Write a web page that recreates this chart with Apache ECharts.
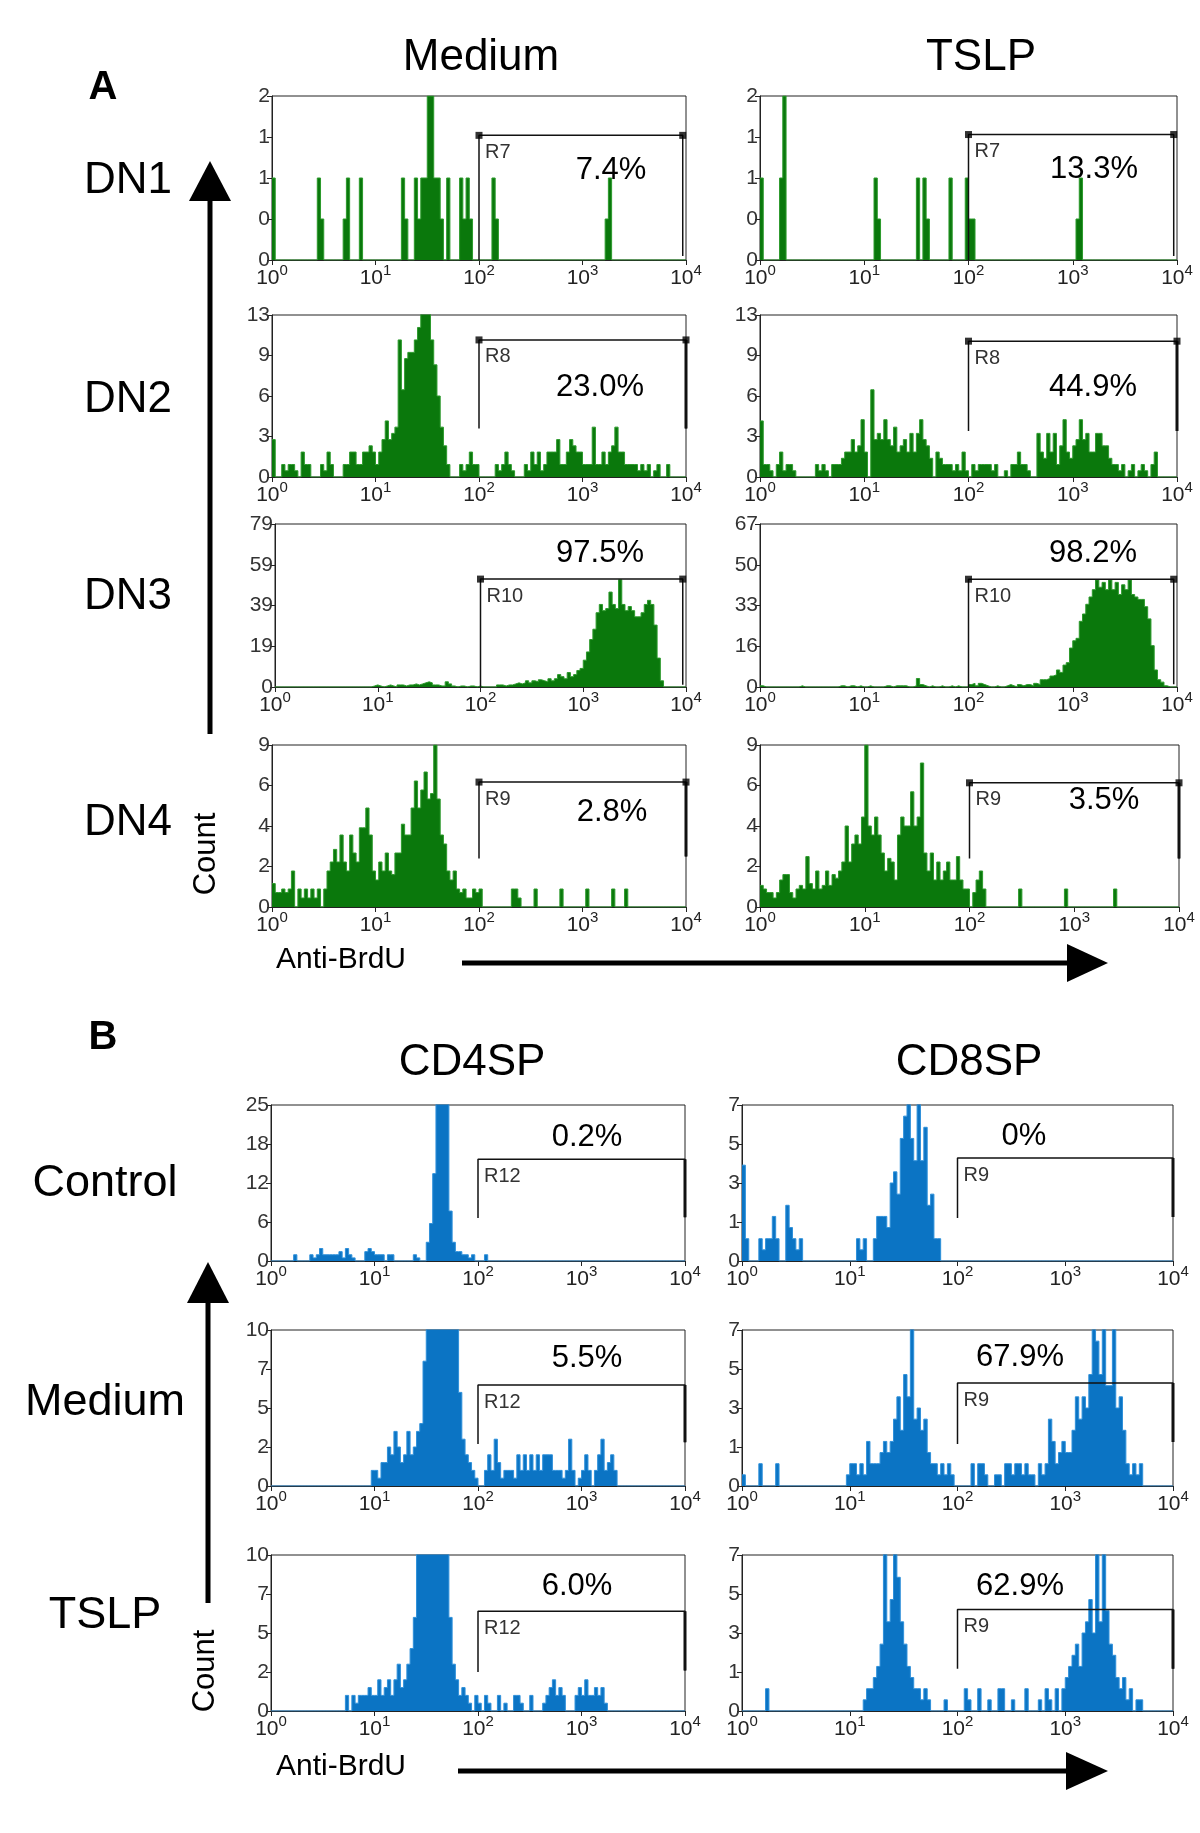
<!DOCTYPE html>
<html><head><meta charset="utf-8">
<script src="https://cdn.jsdelivr.net/npm/echarts@6/dist/echarts.min.js"></script>
<style>html,body{margin:0;padding:0;background:#fff}#c{width:1200px;height:1833px}</style>
</head><body><div id="c"></div>
<script>
// 128 channels over 4 decades (32 channels per decade), counts per channel
const BINS_PER_DECADE = 32;

const dn1Medium = [
 1,0,0,0,0,0,0,0,0,0,0,0,0,0,1,0.5,
 0,0,0,0,0,0,0.5,1,0,0,0,1,0,0,0,0,
 0,0,0,0,0,0,0,0,1,0.5,0,0,1,0.5,1,1,
 2,2,1,1,0.5,0,1,0,0,0,1,0.5,1,0.5,0,0,
 0,0,0,0,1,0.5,0,0,0,0,0,0,0,0,0,0,
 0,0,0,0,0,0,0,0,0,0,0,0,0,0,0,0,
 0,0,0,0,0,0,0,0.5,1,0,0,0,0,0,0,0,
 0,0,0,0,0,0,0,0,0,0,0,0,0,0,0,0];
const dn1Tslp = [
 1,0,0,0,0,0,1,2,0,0,0,0,0,0,0,0,
 0,0,0,0,0,0,0,0,0,0,0,0,0,0,0,0,
 0,0,0,1,0.5,0,0,0,0,0,0,0,0,0,0,0,
 1,0,1,0.5,0,0,0,0,0,0,1,0,0,0,0,1,
 0.5,0.5,0,0,0,0,0,0,0,0,0,0,0,0,0,0,
 0,0,0,0,0,0,0,0,0,0,0,0,0,0,0,0,
 0,0.5,1,0,0,0,0,0,0,0,0,0,0,0,0,0,
 0,0,0,0,0,0,0,0,0,0,0,0,0,0,0,0];
const dn2Medium = [
 3,0,0,1,0.5,1,1,0.5,0,2,1,1,0,0,0,1,
 0.5,2,1,0,0,0,1,1,2,2,1,1,2,2,2.5,2,
 1,2,3,4.5,3,3.5,4,11,7,9.5,10,10,11,12,14,14,
 14,11,9,6.5,4,2.5,1,0,0,0,1,0.5,1,2,1,1,
 0,0,0,0,0,1,0.5,1,2,1,0.5,0,0,0,1,0.5,
 2,1,2,0.5,1,2,2,2,3,1,1,2,3,2.5,2,2,
 1,1,1,4,1,1,2,1,2,2.5,4,2,2,1,1,1,
 1,0.5,1,0.5,1,0,0.5,1,0,0,1,0,0,0,0,0];
const dn2Tslp = [
 4.5,1,1,0.5,0,1,2,0.5,1,1,0.5,0,0,0,0,0,
 0,1,0.5,1,0.5,0,1,1,1,1.5,2,2,3,2,2.5,4.6,
 2,0,7,3,3.5,3,4.6,3,2.5,4,2,2.5,3,2,3.5,2,
 3.5,4.6,3,2.5,1.5,0,2,1.5,1,1,1,0.5,1,0.5,2,0.5,
 0,1,0.5,1,1,1,1,0.5,1,0,0,0.5,0,1,1,2,
 1,1,0.5,0,0,3.5,2,1.5,3.5,2,3.5,1,2.5,4.6,2,1.5,
 2.5,3,4.6,3,3.5,2,2,3.5,3.5,2.5,2.5,1.5,1,1,0.5,1,
 0,0.5,1,0,0.5,1,0.5,0,1,2,0,0,0,0,0,0];
const dn3Medium = [
 0,0,0,0,0,0,0,0,0,0,0,0,0,0,0,0,
 0,0,0,0,0,0,0,0,0,0,0,0,0,0,0.5,1,
 0.5,0,0.5,1,0.5,0,1,1,0.5,1,1,1.5,1,1.5,2,2.5,
 2,1,1,0.5,0.5,2.5,1.5,0.5,0,0.5,0.5,0,0.5,0.5,0,0.5,
 0,0,0,0,0,1,1,0.5,1,1,1.5,2,1.5,2,3,2,
 3,2.5,3.5,3,2.5,4,3,4,6,5,4,7,5,6,8,9,
 13,17,23,28,36,40,37,38,46,40,38,52,40,37,39,37,
 34,34,36,40,42,40,30,14,3,0,0,0,0,0,0,0];
const dn3Tslp = [
 0.5,0,0,0,0,0,0,0,0,0,0,0,0.5,0,0,0,
 0,0,0,0,0,0,0,0,0.5,0.5,0,0.5,0.5,0,0.5,0,
 0,0.5,0,0,0,0,0.5,0.5,0,0.5,0.5,0.5,0.5,0,0,0.5,
 3.5,1,0.5,0,0.5,0,0,0.5,0,0,0.5,0,0.5,0,0,0,
 1,1.5,0.5,1.5,1,0.5,0,0,0.5,0,0,0.5,1,0.5,0,1,
 0.5,1,1,0.5,1.5,1,3,3,3.5,4.5,5,7,6,9,10,16,
 19,20,27,30,34,37,40,44,41,43,40,44,40,43,38,42,
 40,44,38,37,36,36,33,28,17,7,3,2,0.5,0,0,0];
const dn4Medium = [
 1.3,0.8,0.8,1,0.8,1,2,0,1,0.5,1,0.5,1,0.5,1,0,
 1,2,2.5,3.2,2.5,4,2.5,2,4,3,2.5,4.4,4.4,5.5,4,2,
 1.5,2.5,2,3,2,1.8,3,3,4.6,4,4,5.5,7,5.5,6.5,7.5,
 6,6.3,9,6,4,3.5,2,1.5,2,1,0.8,1,0.5,0.5,1,0.8,
 1,0,0,0,0,0,0,0,0,0,1,1,0.5,0,0,0,
 0,1,0,0,0,0,0,0,0,1,0,0,0,0,0,0,
 0,1,0,0,0,0,0,0,0,1,0,0,0,1,0,0,
 0,0,0,0,0,0,0,0,0,0,0,0,0,0,0,0];
const dn4Tslp = [
 1.2,1,0.8,0.8,0.5,0.8,1.5,1.8,1.8,0.8,0.5,1,1.2,1,2.8,1.3,
 1,2,1,1.2,2,1.2,1.8,1.6,2,2.5,4.5,2.5,3.5,4,3.5,5,
 9,4.5,4,5,4,3,2,2.7,2.5,1.5,4,5,4.5,4.5,6.4,4.5,
 5,8,3,2,3,1.5,2.5,1.5,2,2.5,1.5,1.5,2.8,1.5,1,1,
 0,0.8,1.5,2,1,0,0,0,0,0,0,0,0,0,0,1,
 0,0,0,0,0,0,0,0,0,0,0,0,0,1,0,0,
 0,0,0,0,0,0,0,0,0,0,0,0,1,0,0,0,
 0,0,0,0,0,0,0,0,0,0,0,0,0,0,0,0];
const cd4Control = [
 0,0,0,0,0,0,0,1,0,0,0,0,1,0.5,1,2,
 1,1,1,1,1,1.5,0.5,2,1,0.5,0,0,0,1.5,2,1.5,
 1,1,1,0,1,1,0,0,0,0,0,0,1,0.5,0,0,
 3,6,14,30,40,40,30,8,3,1.5,1.5,1,1,0.5,1,0,
 0,0,1,0,0,0,0,0,0,0,0,0,0,0,0,0,
 0,0,0,0,0,0,0,0,0,0,0,0,0,0,0,0,
 0,0,0,0,0,0,0,0,0,0,0,0,0,0,0,0,
 0,0,0,0,0,0,0,0,0,0,0,0,0,0,0,0];
const cd8Control = [
 4.3,1,0,0,0,1,0.5,1,1,2,1,0,0,2.5,1.5,1,
 0.5,1,0,0,0,0,0,0,0,0,0,0,0,0,0,0,
 0,0,1,0.5,1,0,0,1,2,2,2,1.5,3.5,4,3,5.5,
 6.5,8,5.5,4.5,8,4.5,6,2.5,3,1,1,0,0,0,0,0,
 0,0,0,0,0,0,0,0,0,0,0,0,0,0,0,0,
 0,0,0,0,0,0,0,0,0,0,0,0,0,0,0,0,
 0,0,0,0,0,0,0,0,0,0,0,0,0,0,0,0,
 0,0,0,0,0,0,0,0,0,0,0,0,0,0,0,0];
const cd4Medium = [
 0,0,0,0,0,0,0,0,0,0,0,0,0,0,0,0,
 0,0,0,0,0,0,0,0,0,0,0,0,0,0,0,1,
 1,0.5,1.5,1.5,2.5,2,3.5,2.5,1.5,2,3.5,2,2.5,3.5,4,8,
 14,14,14,14,14,14,14,14,14,14,6,3,2,1.5,1,0.5,
 0,0,1,2,1,3,1.5,0.5,1,1,1,0.5,2,1,2,1,
 2,1,2,1,2,2,2,1,1,1,0.5,1,3,1,0,0.5,
 1,2,1,0,1,2,3,1,1.5,2,1,0,0,0,0,0,
 0,0,0,0,0,0,0,0,0,0,0,0,0,0,0,0];
const cd8Medium = [
 0.5,0,0,0,0,1,0,0,0,0,1,0,0,0,0,0,
 0,0,0,0,0,0,0,0,0,0,0,0,0,0,0,0.5,
 1,1,0.5,1,0.5,2,1,1,1,1.5,2,1.5,2,3,4,2.5,
 5,4,8,3,3.5,2.5,3,1.5,1,1,0.5,1,0.5,1,0.5,0,
 0,0,0,0,1,0,1,1,0.5,0,0,0.5,0.5,0,1,1,
 0.5,1,1,0.5,1,0.5,0.5,0,1,0.5,1,3,2,1,1.5,2,
 1.5,1.5,2.5,4,3,4,3.5,5,8,6.5,5,8,4.5,4.5,8,3.5,
 4,2.5,1,0.5,1,0.5,1,0,0,0,0,0,0,0,0,0];
const cd4Tslp = [
 0,0,0,0,0,0,0,0,0,0,0,0,0,0,0,0,
 0,0,0,0,0,0,0,1,0,1,0.5,1,1,1,1.5,1,
 1,2,1,1.5,2,1,2,3,1.5,2,3,4,6,12,14,14,
 14,14,14,14,14,14,14,6,3,2,1,1.5,1,0.5,0,1,
 0.5,0,1,0.5,0,0,1,0,0.5,0,0,1,1,0.5,0,0,
 1,0,0,0,0.5,1,1.5,2,1,1.5,1,0,0,0,1,1.5,
 1,2,1,1,1.5,1,1.5,0.5,0,0,0,0,0,0,0,0,
 0,0,0,0,0,0,0,0,0,0,0,0,0,0,0,0];
const cd8Tslp = [
 0,0,0,0,0,0,0,1,0,0,0,0,0,0,0,0,
 0,0,0,0,0,0,0,0,0,0,0,0,0,0,0,0,
 0,0,0,0,0.5,1,1,1.5,2,3,8,4,5,8,6,4,
 3,2,1.5,1,1,0.5,1,0.5,0,0,0,0,0.5,0,0,0,
 0,0,1,0.5,0,0,1,0,0,0.5,0,0,1,1,0,0,
 0.5,0,0,0,1,0,0,0,0.5,0,1,0.5,0,1,0,1,
 1.5,2,2.5,3,2,3.5,4,5,3.5,8,4,8,4.5,3,2.5,1.5,
 1,1.5,0.5,1,0,0.5,0.5,0,0,0,0,0,0,0,0,0];

// y-axis tick labels (bottom to top) and axis maxima
const yTicksDN1 = ['0','0','1','1','2'];
const yTicksDN2 = ['0','3','6','9','13'];
const yTicksDN3M = ['0','19','39','59','79'];
const yTicksDN3T = ['0','16','33','50','67'];
const yTicksDN4 = ['0','2','4','6','9'];
const yTicksCD4C = ['0','6','12','18','25'];
const yTicksCD8 = ['0','1','3','5','7'];
const yTicksCD4 = ['0','2','5','7','10'];
const yMax = [2,2,13,13,79,67,9,9,25,7,10,7,10,7];

// gates: [level, left foot, right foot]
const gateLevels = [[1.52,0,0.05],[1.53,0,0.05],[11.0,3.9,3.9],[10.9,3.7,3.7],[52.3,0,1.1],[44.3,0,1.1],
  [6.94,2.7,2.8],[6.9,2.7,2.7],[16.3,6.9,7.0],[4.62,1.93,1.97],[6.47,2.7,2.8],[4.62,1.88,1.97],[6.4,2.5,2.6],[4.55,1.9,1.9]];
const gateNames = ['R7','R7','R8','R8','R10','R10','R9','R9','R12','R9','R12','R9','R12','R9'];
const pctLabels = ['7.4%','13.3%','23.0%','44.9%','97.5%','98.2%','2.8%','3.5%','0.2%','0%','5.5%','67.9%','6.0%','62.9%'];

const FONT = '"Liberation Sans", Arial, sans-serif';
const AXFONT = 'Liberation Sans';
const GREEN = {fill:'#0a780c', line:'#2c9a2c'};
const BLUE = {fill:'#0b74c4', line:'#2e90da'};

const datas = [dn1Medium,dn1Tslp,dn2Medium,dn2Tslp,dn3Medium,dn3Tslp,dn4Medium,dn4Tslp,cd4Control,cd8Control,cd4Medium,cd8Medium,cd4Tslp,cd8Tslp];
const ticks = [yTicksDN1,yTicksDN1,yTicksDN2,yTicksDN2,yTicksDN3M,yTicksDN3T,yTicksDN4,yTicksDN4,yTicksCD4C,yTicksCD8,yTicksCD4,yTicksCD8,yTicksCD4,yTicksCD8];
// layout: [left, top, width, height]
const rects = [
 [272,96,414,164],[760,96,417,164],
 [272,315,414,162],[760,315,417,162],
 [275,524,411,163],[760,524,417,163],
 [272,745,414,162],[760,745,419,162],
 [271,1105,414,156],[742,1105,431,156],
 [271,1330,414,156],[742,1330,431,156],
 [271,1555,414,156],[742,1555,431,156]];
const pctPos = [[611,170],[1094,169],[600,387],[1093,387],[600,553],[1093,553],[612,812],[1104,800],
  [587,1137],[1024,1136],[587,1358],[1020,1357],[577,1586],[1020,1586]];

const grids=[], xAxes=[], yAxes=[], series=[];
datas.forEach((d, i) => {
  const r = rects[i];
  const isA = i < 8;
  const col = isA ? GREEN : BLUE;
  const ymax = yMax[i];
  const tk = ticks[i];
  grids.push({left:r[0], top:r[1], width:r[2], height:r[3], show:true, borderColor:'#222', borderWidth:1, backgroundColor:'#fff'});
  xAxes.push({type:'log', logBase:10, min:1, max:10000, gridIndex:i,
    axisLine:{show:true, lineStyle:{color:'#222', width:1}},
    axisTick:{show:true, length:5, lineStyle:{color:'#222'}},
    minorTick:{show:false}, splitLine:{show:false},
    axisLabel:{margin:3, fontSize:21, fontFamily:AXFONT, color:'#222',
      formatter: v => '{b|10}{s|' + Math.round(Math.log10(v)) + '}',
      rich:{b:{fontSize:21, fontFamily:AXFONT, color:'#222', lineHeight:26, verticalAlign:'bottom'},
            s:{fontSize:15, fontFamily:AXFONT, color:'#222', lineHeight:15, verticalAlign:'top'}}}});
  yAxes.push({type:'value', min:0, max:ymax, interval:ymax/4, gridIndex:i,
    axisLine:{show:true, lineStyle:{color:'#222', width:1}},
    axisTick:{show:true, length:5, lineStyle:{color:'#222'}},
    splitLine:{show:false},
    axisLabel:{margin:2, fontSize:21, fontFamily:AXFONT, color:'#333',
      formatter: v => tk[Math.round(v / ymax * 4)]}});
  const pts = d.map((v, k) => [Math.pow(10, k / BINS_PER_DECADE), v]);
  pts.push([10000, d[d.length - 1]]);
  series.push({type:'line', xAxisIndex:i, yAxisIndex:i, step:'end', symbol:'none', data:pts, clip:true, silent:true,
    lineStyle:{color:col.line, width:1}, areaStyle:{color:col.fill, opacity:1}, z:2});
  const g = gateLevels[i];
  const thin = (i === 0 || i === 1 || i === 4 || i === 5);
  const rx = thin ? 9300 : 10000;
  series.push({type:'line', xAxisIndex:i, yAxisIndex:i, symbol:'none', silent:true, clip:false, z:5,
    data:[[100,g[1]],[100,g[0]],[rx,g[0]],[rx,g[2]]], lineStyle:{color:'#111', width:1.5}});
  if (!thin) {
    series.push({type:'line', xAxisIndex:i, yAxisIndex:i, symbol:'none', silent:true, clip:false, z:5,
      data:[[rx,g[0]],[rx,g[2]]], lineStyle:{color:'#111', width:3}});
  }
  if (isA) {
    series.push({type:'scatter', xAxisIndex:i, yAxisIndex:i, symbol:'rect', symbolSize:7, silent:true, z:6,
      data:[[100,g[0]],[rx,g[0]]], itemStyle:{color:'#000'}});
  }
});

const T = (text, x, y, size, opts) => Object.assign({type:'text', x:x, y:y, z:10,
  style:{text:text, font:(opts && opts.bold ? 'bold ' : '') + size + 'px ' + FONT, fill:'#000', align:'center', verticalAlign:'middle'}}, opts && opts.extra || {});

const graphics = [
  T('A', 103, 88, 40, {bold:true}),
  T('Medium', 481, 58, 44), T('TSLP', 981, 58, 44),
  T('DN1', 128, 181, 44), T('DN2', 128, 400, 44), T('DN3', 128, 597, 44), T('DN4', 128, 823, 44),
  T('Count', 206, 854, 31, {extra:{rotation:Math.PI/2}}),
  T('Anti-BrdU', 341, 960, 30),
  T('B', 103, 1038, 40, {bold:true}),
  T('CD4SP', 472, 1063, 44), T('CD8SP', 969, 1063, 44),
  T('Control', 105, 1184, 45), T('Medium', 105, 1403, 45), T('TSLP', 105, 1616, 45),
  T('Count', 205, 1671, 31, {extra:{rotation:Math.PI/2}}),
  T('Anti-BrdU', 341, 1767, 30),
  {type:'line', shape:{x1:210, y1:734, x2:210, y2:195}, style:{stroke:'#000', lineWidth:5}},
  {type:'polygon', shape:{points:[[189,201],[231,201],[210,161]]}, style:{fill:'#000'}},
  {type:'line', shape:{x1:208, y1:1603, x2:208, y2:1298}, style:{stroke:'#000', lineWidth:5}},
  {type:'polygon', shape:{points:[[187,1303],[229,1303],[208,1262]]}, style:{fill:'#000'}},
  {type:'line', shape:{x1:462, y1:963, x2:1072, y2:963}, style:{stroke:'#000', lineWidth:5}},
  {type:'polygon', shape:{points:[[1067,944],[1067,982],[1108,963]]}, style:{fill:'#000'}},
  {type:'line', shape:{x1:458, y1:1771, x2:1072, y2:1771}, style:{stroke:'#000', lineWidth:5}},
  {type:'polygon', shape:{points:[[1066,1752],[1066,1790],[1108,1771]]}, style:{fill:'#000'}}
];
pctLabels.forEach((t, i) => graphics.push(T(t, pctPos[i][0], pctPos[i][1], 31)));

const chart = echarts.init(document.getElementById('c'), null, {renderer:'canvas'});
chart.setOption({animation:false, backgroundColor:'#fff', grid:grids, xAxis:xAxes, yAxis:yAxes, series:series, graphic:graphics});

// gate names placed just under each gate's top-left corner, via the axes' own scales
const extra = graphics.slice();
gateLevels.forEach((g, i) => {
  const p = chart.convertToPixel({gridIndex:i}, [100, g[0]]);
  extra.push({type:'text', x:p[0] + 6, y:p[1] + 7, z:10,
    style:{text:gateNames[i], font:'20px ' + FONT, fill:'#333', align:'left', verticalAlign:'top'}});
});
chart.setOption({graphic:extra});
</script></body></html>
